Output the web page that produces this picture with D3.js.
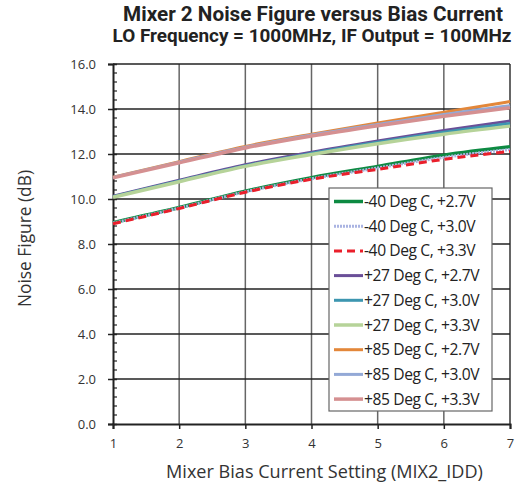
<!DOCTYPE html>
<html><head><meta charset="utf-8">
<script src="https://cdn.jsdelivr.net/npm/d3@7"></script>
<style>body{margin:0;background:#fff;} svg{display:block;}</style>
</head><body>
<svg id="c" width="520" height="484"></svg>
<script>
const xValues = [1, 2, 3, 4, 5, 6, 7];
const seriesNames = ["-40 Deg C, +2.7V","-40 Deg C, +3.0V","-40 Deg C, +3.3V",
  "+27 Deg C, +2.7V","+27 Deg C, +3.0V","+27 Deg C, +3.3V",
  "+85 Deg C, +2.7V","+85 Deg C, +3.0V","+85 Deg C, +3.3V"];
const m40_27 = [8.95, 9.62, 10.35, 10.95, 11.45, 11.95, 12.32];
const m40_30 = [8.93, 9.60, 10.32, 10.90, 11.38, 11.85, 12.20];
const m40_33 = [8.90, 9.58, 10.30, 10.88, 11.32, 11.76, 12.12];
const p27_27 = [10.12, 10.83, 11.52, 12.08, 12.58, 13.05, 13.47];
const p27_30 = [10.10, 10.80, 11.48, 12.03, 12.52, 12.97, 13.36];
const p27_33 = [10.08, 10.77, 11.45, 11.98, 12.46, 12.88, 13.24];
const p85_27 = [10.97, 11.66, 12.34, 12.88, 13.38, 13.86, 14.33];
const p85_30 = [10.96, 11.64, 12.30, 12.84, 13.31, 13.76, 14.15];
const p85_33 = [10.94, 11.61, 12.27, 12.80, 13.26, 13.68, 14.05];
const seriesValues = [m40_27, m40_30, m40_33, p27_27, p27_30, p27_33, p85_27, p85_30, p85_33];
const yTicks = [0, 2, 4, 6, 8, 10, 12, 14, 16];
const xTicks = [1, 2, 3, 4, 5, 6, 7];
const titleText = "Mixer 2 Noise Figure versus Bias Current";
const subtitleText = "LO Frequency = 1000MHz, IF Output = 100MHz";
const xLabel = "Mixer Bias Current Setting (MIX2_IDD)";
const yLabel = "Noise Figure (dB)";

const styles = [
  {c:"#0d8a42", w:3.5, d:null},
  {c:"#aab4e2", w:3, d:"2,1"},
  {c:"#ea1f2b", w:3, d:"8,5"},
  {c:"#6a4f98", w:3, d:null},
  {c:"#3d96b0", w:3, d:null},
  {c:"#b6d399", w:3.5, d:null},
  {c:"#e3873a", w:3, d:null},
  {c:"#93a9d6", w:3, d:null},
  {c:"#d59091", w:3.5, d:null}
];

const svg = d3.select("#c");
const font = "'Open Sans', sans-serif";
const tfont = "Roboto, sans-serif";
const L = 113, R = 510, T = 64, B = 424;
const x = d3.scaleLinear().domain([1, 7]).range([L, R]);
const y = d3.scaleLinear().domain([0, 16]).range([B, T]);

function fit(sel, target) {
  const n = sel.node();
  const fs = parseFloat(sel.attr("font-size"));
  const w = n.getComputedTextLength();
  if (w > 0) sel.attr("font-size", (fs * target / w).toFixed(2));
  return sel;
}

// grid
const g = svg.append("g");
g.selectAll("line.v").data(xTicks.slice(1)).join("line")
  .attr("x1", d => x(d)).attr("x2", d => x(d)).attr("y1", T).attr("y2", B)
  .attr("stroke", d => d === 7 ? "#333" : "#666").attr("stroke-width", 1.5);
g.selectAll("line.h").data(yTicks.slice(1)).join("line")
  .attr("x1", L).attr("x2", R).attr("y1", d => y(d)).attr("y2", d => y(d))
  .attr("stroke", "#222").attr("stroke-width", 1.5);

// y axis
const yAxis = svg.append("g").attr("transform", `translate(${L},0)`)
  .call(d3.axisLeft(y).tickValues(yTicks).tickFormat(d3.format(".1f")).tickSize(5).tickPadding(12));
yAxis.select(".domain").attr("stroke", "#222").attr("stroke-width", 2);
yAxis.selectAll(".tick line").attr("x2", -5).attr("x1", 4).attr("stroke", "#222").attr("stroke-width", 1.5);
yAxis.selectAll("text").attr("font-family", font).attr("font-size", 13).attr("fill", "#333");
const minor = d3.range(0, 16.01, 0.4).filter(v => Math.abs(v/2 - Math.round(v/2)) > 1e-6);
svg.append("g").selectAll("line").data(minor).join("line")
  .attr("x1", L).attr("x2", L + 4).attr("y1", d => y(d)).attr("y2", d => y(d))
  .attr("stroke", "#222").attr("stroke-width", 1.2);

// x axis
const xAxis = svg.append("g").attr("transform", `translate(0,${B})`)
  .call(d3.axisBottom(x).tickValues(xTicks).tickFormat(d3.format("d")).tickSize(5).tickPadding(10));
xAxis.select(".domain").attr("stroke", "#222").attr("stroke-width", 2);
xAxis.selectAll(".tick line").attr("stroke", "#222").attr("stroke-width", 1.5);
xAxis.selectAll("text").attr("font-family", font).attr("font-size", 13).attr("fill", "#333");

// lines
const line = d3.line().x((d, i) => x(xValues[i])).y(d => y(d)).curve(d3.curveMonotoneX);
svg.append("g").selectAll("path").data(seriesValues).join("path")
  .attr("d", d => line(d)).attr("fill", "none")
  .attr("stroke", (d, i) => styles[i].c).attr("stroke-width", (d, i) => styles[i].w)
  .attr("stroke-dasharray", (d, i) => styles[i].d);

// legend
const lg = svg.append("g");
const lx = 329, ly = 188, lw = 163, lh = 223;
lg.append("rect").attr("x", lx).attr("y", ly).attr("width", lw).attr("height", lh)
  .attr("fill", "#fff").attr("stroke", "#666").attr("stroke-width", 1.2);
// measure legend font size from longest entry
const probe = lg.append("text").attr("font-family", font).attr("font-size", 15)
  .attr("letter-spacing", -0.4).text(seriesNames[8]);
fit(probe, 115);
const legendFs = probe.attr("font-size");
probe.remove();
seriesNames.forEach((n, i) => {
  const cy = ly + 13.5 + i * 24.7;
  lg.append("line").attr("x1", lx + 5).attr("x2", lx + 34).attr("y1", cy).attr("y2", cy)
    .attr("stroke", styles[i].c).attr("stroke-width", styles[i].w)
    .attr("stroke-dasharray", styles[i].d);
  lg.append("text").attr("x", lx + 35).attr("y", cy + 5.5).text(n)
    .attr("font-family", font).attr("font-size", legendFs).attr("fill", "#222")
    .attr("letter-spacing", -0.4);
});

// titles
fit(svg.append("text").attr("x", 313).attr("y", 21).attr("text-anchor", "middle")
  .attr("font-family", tfont).attr("font-weight", "bold").attr("font-size", 18).attr("fill", "#222")
  .text(titleText), 380);
fit(svg.append("text").attr("x", 312).attr("y", 42).attr("text-anchor", "middle")
  .attr("font-family", tfont).attr("font-weight", "bold").attr("font-size", 16).attr("fill", "#222")
  .text(subtitleText), 399);
fit(svg.append("text").attr("x", 324.5).attr("y", 478).attr("text-anchor", "middle")
  .attr("font-family", font).attr("font-size", 17).attr("fill", "#333").text(xLabel), 317);
fit(svg.append("text").attr("transform", "translate(31,238.5) rotate(-90)").attr("text-anchor", "middle")
  .attr("font-family", font).attr("font-size", 16).attr("fill", "#333").text(yLabel), 137);
</script>
</body></html>
